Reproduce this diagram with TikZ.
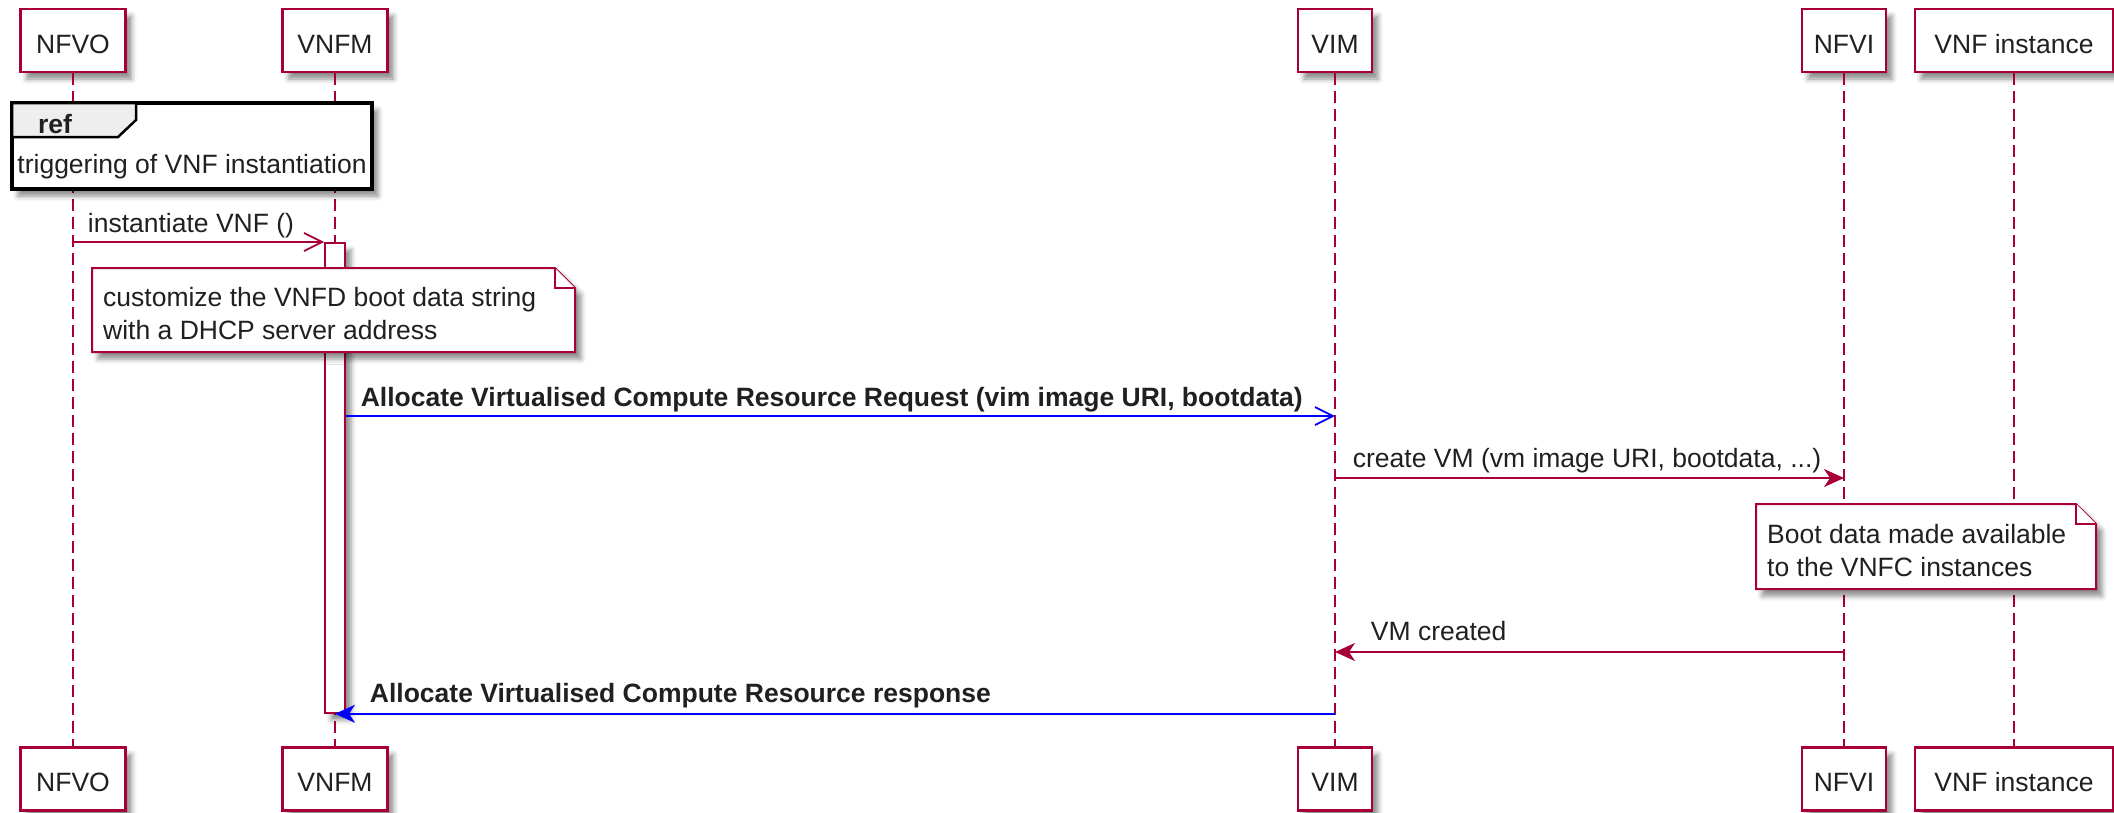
\documentclass[tikz,border=0pt]{standalone}
\usepackage{fontspec}
\setmainfont{Liberation Sans}
\usetikzlibrary{arrows.meta, shadows.blur}
\definecolor{crim}{HTML}{A80036}
\definecolor{reftab}{HTML}{EEEEEE}
\definecolor{ink}{HTML}{202020}

\begin{document}
\begin{tikzpicture}[x=1pt, y=-1pt, font=\fontsize{26.5}{33}\selectfont, text=ink,
    dropshade/.style={blur shadow={shadow xshift=6pt, shadow yshift=-7pt, shadow blur radius=5pt, shadow opacity=45}},
    partbox/.style={draw=crim, line width=2.5pt, fill=white, minimum height=63pt, text height=25pt, text depth=0pt, inner sep=0pt, dropshade},
    lifeline/.style={draw=crim, line width=2pt, dash pattern=on 12pt off 6pt},
    actbar/.style={draw=crim, line width=1.8pt, fill=white, minimum width=20pt, minimum height=470pt, inner sep=0pt, dropshade},
    notepen/.style={draw=crim, line width=2pt, fill=white},
    syncmsg/.style={line width=1.8pt, -{Stealth[length=20pt, width=18pt, inset=6pt]}},
    asyncmsg/.style={line width=1.8pt, -{Straight Barb[length=18pt, width=18pt]}},
    msgtext/.style={inner sep=0pt, text=ink}]
    \useasboundingbox (0,0) rectangle (2114,812);
    \foreach \nm/\x/\w/\txt in {nfvo/73/105/NFVO, vnfm/335/105/VNFM, vim/1335/74/VIM, nfvi/1844/84/NFVI, vnfi/2014/198/VNF instance} {
        \node[partbox, minimum width=\w pt] (\nm) at (\x,40.5) {\txt};
        \node[partbox, minimum width=\w pt] (\nm-end) at (\x,779) {\txt};
        \draw[lifeline] (\nm) -- (\nm-end);
    }
    \filldraw[line width=3.5pt, fill=white, dropshade] (12,103) rectangle (372,189);
    \filldraw[line width=2.5pt, fill=reftab] (12,103) -- (136,103) -- (136,120) -- (118,137) -- (12,137) -- cycle;
    \node[anchor=base, font=\fontsize{26.5}{33}\selectfont\bfseries] (reftag) at (55,133) {ref};
    \node[anchor=base] (refcall) at (192,173) {triggering of VNF instantiation};
    \node[actbar, anchor=north] (act) at (335,242) {};
    \filldraw[notepen, dropshade] (92,268) -- (555,268) -- (575,288) -- (575,352) -- (92,352) -- cycle;
    \draw[notepen] (555,268) |- (575,288);
    \node[anchor=north west, align=left, inner sep=0pt] (dhcpnote) at (103,287) {customize the VNFD boot data string\\with a DHCP server address};
    \filldraw[notepen, dropshade] (1756,504) -- (2076,504) -- (2096,524) -- (2096,589) -- (1756,589) -- cycle;
    \draw[notepen] (2076,504) |- (2096,524);
    \node[anchor=north west, align=left, inner sep=0pt] (bootnote) at (1767,524) {Boot data made available\\to the VNFC instances};
    \draw[asyncmsg, draw=crim] (nfvo |- act.north) -- (act.north west)
        node[msgtext, pos=0, anchor=base west, xshift=14pt, yshift=10pt] {instantiate VNF ()};
    \draw[asyncmsg, draw=blue] (act.east |- 0,416) -- (vim |- 0,416)
        node[msgtext, pos=0, anchor=base west, xshift=14pt, yshift=10pt] {\bfseries Allocate Virtualised Compute Resource Request (vim image URI, bootdata)};
    \draw[syncmsg, draw=crim] (vim |- 0,478) -- (nfvi |- 0,478)
        node[msgtext, pos=0, anchor=base west, xshift=17pt, yshift=11pt] {create VM (vm image URI, bootdata, ...)};
    \draw[syncmsg, draw=crim] (nfvi |- 0,652) -- (vim |- 0,652)
        node[msgtext, pos=1, anchor=base west, xshift=35pt, yshift=12pt] {VM created};
    \draw[syncmsg, draw=blue] (vim |- act.south) -- (act.south)
        node[msgtext, pos=1, anchor=base west, xshift=34pt, yshift=11pt] {\bfseries Allocate Virtualised Compute Resource response};
\end{tikzpicture}
\end{document}
